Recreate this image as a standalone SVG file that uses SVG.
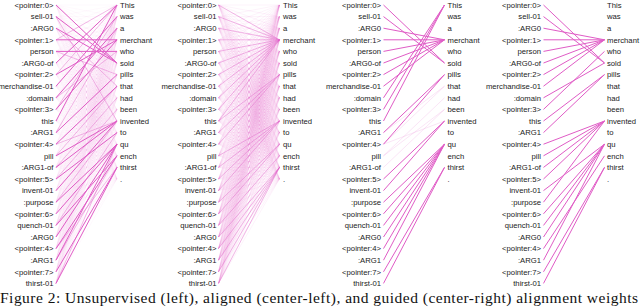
<svg xmlns="http://www.w3.org/2000/svg" xmlns:xlink="http://www.w3.org/1999/xlink" width="640" height="307" viewBox="0 0 640 307">
<style>
text{font-family:"Liberation Sans",Arial,sans-serif;font-size:7.7px;fill:#222}
.s{fill:none;stroke:#e05cc6;stroke-width:1}
.m{fill:none;stroke:#e05cc6;stroke-width:0.9;stroke-opacity:0.45}
.f{fill:none;stroke:#e05cc6;stroke-width:0.8;stroke-opacity:0.2}
.fan{fill:none;stroke:#e05cc6;stroke-width:0.6;vector-effect:non-scaling-stroke}
.cap{font-family:"Liberation Serif","Times New Roman",serif;font-size:15.5px;fill:#111}
</style>
<defs>
<path id="fan" class="fan" d="M0 0L61 0M0 0L61 11.6M0 0L61 23.2M0 0L61 34.8M0 0L61 46.4M0 0L61 58M0 0L61 69.6M0 0L61 81.2M0 0L61 92.8M0 0L61 104.4M0 0L61 116M0 0L61 127.6M0 0L61 139.2M0 0L61 150.8M0 0L61 162.4M0 0L61 174"/>
<g id="haze">
<use xlink:href="#fan" transform="matrix(1,0,0,1,0,5)"/>
<use xlink:href="#fan" transform="matrix(1,-0.19016,0,1,0,16.6)"/>
<use xlink:href="#fan" transform="matrix(1,-0.38033,0,1,0,28.2)"/>
<use xlink:href="#fan" transform="matrix(1,-0.57049,0,1,0,39.8)"/>
<use xlink:href="#fan" transform="matrix(1,-0.76066,0,1,0,51.4)"/>
<use xlink:href="#fan" transform="matrix(1,-0.95082,0,1,0,63)"/>
<use xlink:href="#fan" transform="matrix(1,-1.14098,0,1,0,74.6)"/>
<use xlink:href="#fan" transform="matrix(1,-1.33115,0,1,0,86.2)"/>
<use xlink:href="#fan" transform="matrix(1,-1.52131,0,1,0,97.8)"/>
<use xlink:href="#fan" transform="matrix(1,-1.71148,0,1,0,109.4)"/>
<use xlink:href="#fan" transform="matrix(1,-1.90164,0,1,0,121)"/>
<use xlink:href="#fan" transform="matrix(1,-2.09180,0,1,0,132.6)"/>
<use xlink:href="#fan" transform="matrix(1,-2.28197,0,1,0,144.2)"/>
<use xlink:href="#fan" transform="matrix(1,-2.47213,0,1,0,155.8)"/>
<use xlink:href="#fan" transform="matrix(1,-2.66230,0,1,0,167.4)"/>
<use xlink:href="#fan" transform="matrix(1,-2.85246,0,1,0,179)"/>
<use xlink:href="#fan" transform="matrix(1,-3.04262,0,1,0,190.6)"/>
<use xlink:href="#fan" transform="matrix(1,-3.23279,0,1,0,202.2)"/>
<use xlink:href="#fan" transform="matrix(1,-3.42295,0,1,0,213.8)"/>
<use xlink:href="#fan" transform="matrix(1,-3.61311,0,1,0,225.4)"/>
<use xlink:href="#fan" transform="matrix(1,-3.80328,0,1,0,237)"/>
<use xlink:href="#fan" transform="matrix(1,-3.99344,0,1,0,248.6)"/>
<use xlink:href="#fan" transform="matrix(1,-4.18361,0,1,0,260.2)"/>
<use xlink:href="#fan" transform="matrix(1,-4.37377,0,1,0,271.8)"/>
<use xlink:href="#fan" transform="matrix(1,-4.56393,0,1,0,283.4)"/>
</g>
<g id="amr" text-anchor="end">
<text x="0" y="7.7">&lt;pointer:0&gt;</text><text x="0" y="19.3">sell-01</text><text x="0" y="30.9">:ARG0</text><text x="0" y="42.5">&lt;pointer:1&gt;</text><text x="0" y="54.1">person</text><text x="0" y="65.7">:ARG0-of</text><text x="0" y="77.3">&lt;pointer:2&gt;</text><text x="0" y="88.9">merchandise-01</text><text x="0" y="100.5">:domain</text><text x="0" y="112.1">&lt;pointer:3&gt;</text><text x="0" y="123.7">this</text><text x="0" y="135.3">:ARG1</text><text x="0" y="146.9">&lt;pointer:4&gt;</text><text x="0" y="158.5">pill</text><text x="0" y="170.1">:ARG1-of</text><text x="0" y="181.7">&lt;pointer:5&gt;</text><text x="0" y="193.3">invent-01</text><text x="0" y="204.9">:purpose</text><text x="0" y="216.5">&lt;pointer:6&gt;</text><text x="0" y="228.1">quench-01</text><text x="0" y="239.7">:ARG0</text><text x="0" y="251.3">&lt;pointer:4&gt;</text><text x="0" y="262.9">:ARG1</text><text x="0" y="274.5">&lt;pointer:7&gt;</text><text x="0" y="286.1">thirst-01</text>
</g>
<g id="words">
<text x="0" y="7.7">This</text><text x="0" y="19.3">was</text><text x="0" y="30.9">a</text><text x="0" y="42.5">merchant</text><text x="0" y="54.1">who</text><text x="0" y="65.7">sold</text><text x="0" y="77.3">pills</text><text x="0" y="88.9">that</text><text x="0" y="100.5">had</text><text x="0" y="112.1">been</text><text x="0" y="123.7">invented</text><text x="0" y="135.3">to</text><text x="0" y="146.9">qu</text><text x="0" y="158.5">ench</text><text x="0" y="170.1">thirst</text><text x="0" y="181.7">.</text>
</g>
</defs>

<g id="panel1">
<g id="p1-amr"><use xlink:href="#amr" x="53.5"/></g>
<g id="p1-words"><use xlink:href="#words" x="120"/></g>
<g id="p1-connectors" transform="translate(56,0)">
<use xlink:href="#haze" style="stroke-opacity:0.07"/>
<path class="m" d="M0 16.6L61 121M0 28.2L61 86.2M0 39.8L61 5M0 51.4L61 74.6M0 74.6L61 5M0 97.8L61 51.4M0 109.4L61 16.6M0 132.6L61 28.2M0 144.2L61 121M0 155.8L61 86.2M0 167.4L61 97.8M0 179L61 109.4M0 202.2L61 121M0 225.4L61 132.6M0 248.6L61 167.4M0 260.2L61 155.8M0 283.4L61 144.2"/>
<path class="s" d="M0 5L61 63M0 16.6L61 63M0 28.2L61 63M0 39.8L61 39.8M0 51.4L61 51.4M0 63L61 5M0 74.6L61 39.8M0 86.2L61 16.6M0 97.8L61 28.2M0 109.4L61 39.8M0 121L61 5M0 132.6L61 74.6M0 144.2L61 86.2M0 155.8L61 121M0 167.4L61 121M0 179L61 132.6M0 190.6L61 121M0 202.2L61 144.2M0 213.8L61 144.2M0 225.4L61 155.8M0 237L61 144.2M0 248.6L61 155.8M0 260.2L61 144.2M0 271.8L61 167.4M0 283.4L61 167.4"/>
</g>
</g>

<g id="panel2">
<g id="p2-amr"><use xlink:href="#amr" x="216.5"/></g>
<g id="p2-words"><use xlink:href="#words" x="283"/></g>
<g id="p2-connectors" transform="translate(218.5,0)">
<use xlink:href="#haze" style="stroke-opacity:0.12"/>
<path class="m" d="M0 5L61 39.8M0 16.6L61 39.8M0 28.2L61 39.8M0 39.8L61 39.8M0 51.4L61 39.8M0 63L61 39.8M0 74.6L61 39.8M0 86.2L61 39.8M0 97.8L61 39.8M0 109.4L61 39.8M0 121L61 39.8M0 121L61 74.6M0 132.6L61 74.6M0 144.2L61 74.6M0 155.8L61 121M0 167.4L61 121M0 179L61 121M0 190.6L61 121M0 202.2L61 144.2M0 213.8L61 144.2M0 225.4L61 155.8M0 237L61 167.4M0 248.6L61 167.4M0 260.2L61 167.4M0 271.8L61 167.4M0 283.4L61 167.4"/>
</g>
</g>

<g id="panel3">
<g id="p3-amr"><use xlink:href="#amr" x="381"/></g>
<g id="p3-words"><use xlink:href="#words" x="447.5"/></g>
<g id="p3-connectors" transform="translate(383.5,0)">
<path class="f" d="M0 144.2L61 86.2M0 155.8L61 97.8M0 155.8L61 109.4M0 167.4L61 109.4M0 144.2L61 121M0 132.6L61 86.2"/>
<path class="s" d="M0 5L61 63M0 16.6L61 63M0 28.2L61 39.8M0 39.8L61 39.8M0 51.4L61 39.8M0 63L61 39.8M0 74.6L61 39.8M0 86.2L61 39.8M0 97.8L61 5M0 109.4L61 5M0 121L61 5M0 132.6L61 74.6M0 144.2L61 74.6M0 179L61 121M0 190.6L61 121M0 202.2L61 144.2M0 213.8L61 144.2M0 225.4L61 144.2M0 237L61 144.2M0 248.6L61 144.2M0 260.2L61 144.2M0 271.8L61 167.4M0 283.4L61 167.4"/>
</g>
</g>

<g id="panel4">
<g id="p4-amr"><use xlink:href="#amr" x="541"/></g>
<g id="p4-words"><use xlink:href="#words" x="607"/></g>
<g id="p4-connectors" transform="translate(543.5,0)">
<path class="s" d="M0 5L61 63M0 16.6L61 63M0 28.2L61 39.8M0 39.8L61 39.8M0 51.4L61 39.8M0 63L61 39.8M0 74.6L61 39.8M0 86.2L61 39.8M0 97.8L61 63M0 109.4L61 51.4M0 121L61 74.6M0 132.6L61 74.6M0 144.2L61 121M0 155.8L61 121M0 167.4L61 121M0 179L61 121M0 190.6L61 144.2M0 202.2L61 121M0 213.8L61 144.2M0 225.4L61 144.2M0 237L61 144.2M0 248.6L61 155.8M0 260.2L61 144.2M0 271.8L61 167.4M0 283.4L61 167.4"/>
</g>
</g>

<text class="cap" x="0" y="302.5" textLength="638" lengthAdjust="spacing">Figure 2: Unsupervised (left), aligned (center-left), and guided (center-right) alignment weights</text>
</svg>
